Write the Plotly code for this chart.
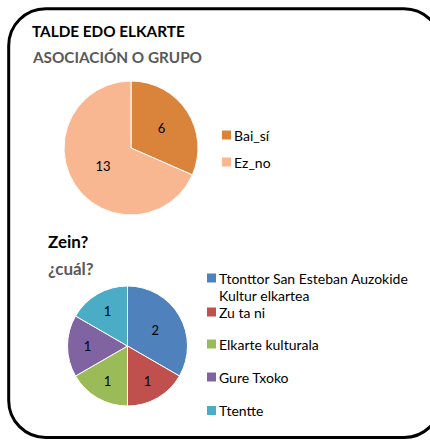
import plotly.graph_objects as go

W, H = 430, 440

# ---- data ----
pie1_labels = ["Bai_sí", "Ez_no"]
pie1_values = [6, 13]
pie1_colors = ["#DA843B", "#F9B791"]

pie2_labels = ["Ttonttor San Esteban Auzokide Kultur elkartea", "Zu ta ni",
               "Elkarte kulturala", "Gure Txoko", "Ttentte"]
pie2_values = [2, 1, 1, 1, 1]
pie2_colors = ["#4F81BD", "#C0504D", "#9BBB59", "#8064A2", "#4BACC6"]

title1 = "TALDE EDO ELKARTE"
subtitle1 = "ASOCIACIÓN O GRUPO"
title2 = "Zein?"
subtitle2 = "¿cuál?"

FONT = "Lato"


def px(x):
    return x / W


def py(y):
    return 1 - y / H


fig = go.Figure()

# pie 1
cx1, cy1, r1 = 131, 148, 67
fig.add_trace(go.Pie(
    labels=pie1_labels, values=pie1_values, sort=False, direction="clockwise",
    rotation=0, marker=dict(colors=pie1_colors, line=dict(color="white", width=1)),
    textinfo="value", textposition="inside", insidetextorientation="horizontal",
    textfont=dict(family=FONT, size=13, color="#000000"),
    domain=dict(x=[px(cx1 - r1), px(cx1 + r1)], y=[py(cy1 + r1), py(cy1 - r1)]),
    showlegend=False, hoverinfo="label+value",
))

# pie 2
cx2, cy2, r2 = 127.5, 346, 60
fig.add_trace(go.Pie(
    labels=pie2_labels, values=pie2_values, sort=False, direction="clockwise",
    rotation=0, marker=dict(colors=pie2_colors, line=dict(color="white", width=1)),
    textinfo="value", textposition="inside", insidetextorientation="horizontal",
    textfont=dict(family=FONT, size=13, color="#000000"),
    domain=dict(x=[px(cx2 - r2), px(cx2 + r2)], y=[py(cy2 + r2), py(cy2 - r2)]),
    showlegend=False, hoverinfo="label+value",
))

shapes = []
annotations = []

# rounded border
L, T, R, B, rad = 8.7, 8.7, 441, 437.5, 37
k = 0.5523 * rad
pts = [
    ("M", [(L + rad, T)]),
    ("L", [(R - rad, T)]),
    ("C", [(R - rad + k, T), (R, T + rad - k), (R, T + rad)]),
    ("L", [(R, B - rad)]),
    ("C", [(R, B - rad + k), (R - rad + k, B), (R - rad, B)]),
    ("L", [(L + rad, B)]),
    ("C", [(L + rad - k, B), (L, B - rad + k), (L, B - rad)]),
    ("L", [(L, T + rad)]),
    ("C", [(L, T + rad - k), (L + rad - k, T), (L + rad, T)]),
]
path = ""
for cmd, ps in pts:
    path += cmd + " " + " ".join(f"{px(x):.5f},{py(y):.5f}" for x, y in ps) + " "
path += "Z"
shapes.append(dict(type="path", path=path, xref="paper", yref="paper",
                   line=dict(color="black", width=3), fillcolor="rgba(0,0,0,0)"))


def text(x, y, s, size, color, bold=False, anchor="middle"):
    annotations.append(dict(
        x=px(x), y=py(y), xref="paper", yref="paper", text=f"<b>{s}</b>" if bold else s,
        showarrow=False, xanchor="left", yanchor=anchor, borderpad=0,
        font=dict(family=FONT, size=size, color=color)))


text(31, 31, title1, 15.3, "#000000", bold=True)
text(31, 57.5, subtitle1, 15.3, "#595959", bold=True)
text(47, 241.5, title2, 17, "#000000", bold=True)
text(47, 268, subtitle2, 17, "#595959", bold=True)

# legend 1
leg1_y = [135, 162]
for lab, col, y in zip(pie1_labels, pie1_colors, leg1_y):
    shapes.append(dict(type="rect", xref="paper", yref="paper",
                       x0=px(222), x1=px(231), y0=py(y + 4.5), y1=py(y - 4.5),
                       fillcolor=col, line=dict(width=0)))
    text(233, y, lab, 14, "#000000")

# legend 2
leg2_y = [278, 312, 344, 377, 410.5]


def wrap(s, n=30):
    words, lines, cur = s.split(), [], ""
    for w_ in words:
        if cur and len(cur) + 1 + len(w_) > n:
            lines.append(cur)
            cur = w_
        else:
            cur = (cur + " " + w_).strip()
    lines.append(cur)
    return lines


for lab, col, y in zip(pie2_labels, pie2_colors, leg2_y):
    shapes.append(dict(type="rect", xref="paper", yref="paper",
                       x0=px(207), x1=px(216), y0=py(y + 4.5), y1=py(y - 4.5),
                       fillcolor=col, line=dict(width=0)))
    for i, line in enumerate(wrap(lab)):
        text(218, y + 17.5 * i, line, 14, "#000000")

fig.update_layout(
    width=W, height=H, margin=dict(l=0, r=0, t=0, b=0),
    paper_bgcolor="white", plot_bgcolor="white",
    shapes=shapes, annotations=annotations, showlegend=False,
)

fig.write_html("out.html", config={"displayModeBar": False},
               post_script="document.body.style.margin='0';")
